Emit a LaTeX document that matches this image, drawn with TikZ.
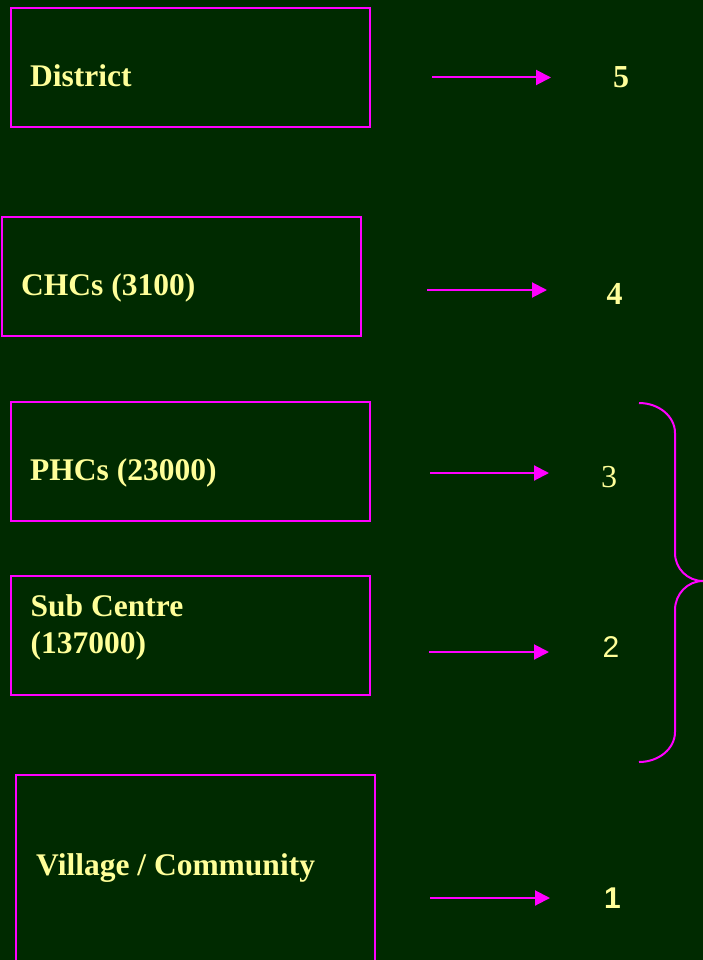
\documentclass[tikz,border=0pt]{standalone}
\usepackage{fontspec}
\setmainfont{Liberation Serif}
\newfontfamily\arialf{Liberation Sans}
\usetikzlibrary{arrows.meta}
\definecolor{bgreen}{HTML}{002A00}
\definecolor{mag}{HTML}{FF00FF}
\definecolor{lyel}{HTML}{FFFF99}
\begin{document}
\begin{tikzpicture}[x=1pt,y=-1pt,
  levelbox/.style={draw=mag, line width=2pt, rectangle, inner sep=0pt, outer sep=0pt, anchor=north west},
  label/.style={text=lyel, inner sep=0pt, anchor=base west, font=\fontsize{31.5}{37}\selectfont\bfseries},
  num/.style={text=lyel, inner sep=0pt, anchor=center},
  numTB/.style={num, font=\fontsize{32}{38}\selectfont\bfseries},
  numTR/.style={num, font=\fontsize{32}{38}\selectfont},
  numAR/.style={num, font=\fontsize{30}{36}\selectfont\arialf},
  numAB/.style={num, font=\fontsize{30}{36}\selectfont\arialf\bfseries},
  levelarrow/.style={draw=mag, line width=2pt, -{Triangle[length=15pt,width=15pt]}},
  bracestyle/.style={draw=mag, line width=2pt}
]
\path[use as bounding box, fill=bgreen] (0,0) rectangle (703,960);
\clip (0,0) rectangle (703,960);

% boxes
\node[levelbox, minimum width=359pt, minimum height=119pt] (bD) at (11,8.5) {};
\node[levelbox, minimum width=359pt, minimum height=119pt] (bC) at (2,216.5) {};
\node[levelbox, minimum width=359pt, minimum height=119pt] (bP) at (11,401.5) {};
\node[levelbox, minimum width=359pt, minimum height=119pt] (bS) at (11,575.5) {};
\node[levelbox, minimum width=359pt, minimum height=230pt] (bV) at (16,774.5) {};

% labels
\node[label] (tD) at (30,87) {District};
\node[label] (tC) at (21,295) {CHCs (3100)};
\node[label] (tP) at (30,480) {PHCs (23000)};
\node[label, anchor=north west, align=left] (tS) at (30.5,594.5) {Sub Centre\\(137000)};
\node[label] (tV) at (36,875) {Village / Community};

% numbers
\node[numTB] (n5) at (621,77.5) {5};
\node[numTB] (n4) at (614.5,294) {4};
\node[numTR] (n3) at (609,477) {3};
\node[numAR] (n2) at (611,647) {2};
\node[numAB] (n1) at (612.5,898) {1};

% arrows
\coordinate (a5s) at (432,77.5); \coordinate (a5e) at (551,77.5);
\coordinate (a4s) at (427,290); \coordinate (a4e) at (547,290);
\coordinate (a3s) at (430,473); \coordinate (a3e) at (549,473);
\coordinate (a2s) at (429,652); \coordinate (a2e) at (549,652);
\coordinate (a1s) at (430,898); \coordinate (a1e) at (550,898);
\draw[levelarrow] (a5s) -- (a5e);
\draw[levelarrow] (a4s) -- (a4e);
\draw[levelarrow] (a3s) -- (a3e);
\draw[levelarrow] (a2s) -- (a2e);
\draw[levelarrow] (a1s) -- (a1e);

% brace
\draw[bracestyle] (639,403) .. controls (659,403) and (675,416.5) .. (675,433)
  -- (675,553) .. controls (675,568.5) and (687.5,581) .. (703,581)
  .. controls (687.5,581) and (675,594) .. (675,610)
  -- (675,732) .. controls (675,748.5) and (659,762) .. (639,762);
\end{tikzpicture}
\end{document}
